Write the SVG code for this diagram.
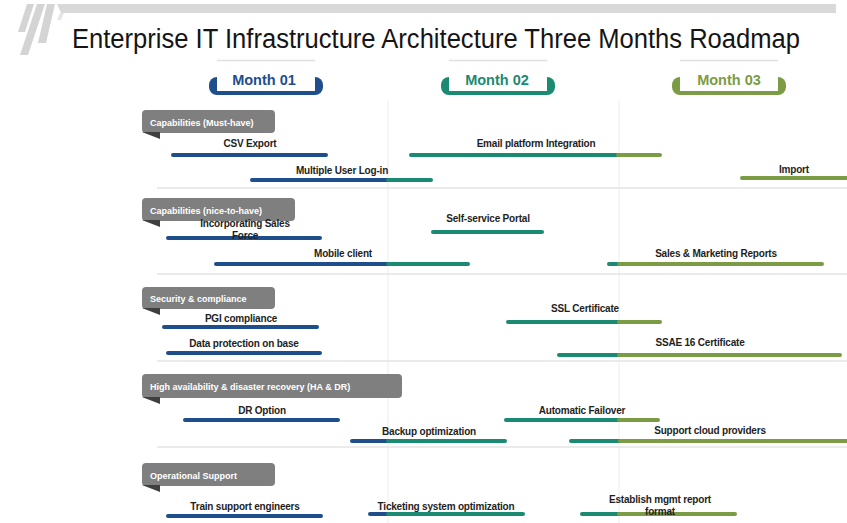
<svg xmlns="http://www.w3.org/2000/svg" width="847" height="523" viewBox="0 0 847 523">
<defs>
<style>
.title{font-family:"Liberation Sans",Arial,sans-serif;font-size:27px;fill:#151515}
.mon{font-family:"Liberation Sans",Arial,sans-serif;font-size:14.5px;font-weight:bold;text-anchor:middle}
.hdr{fill:#7F7F7F}
.fold{fill:#3F3F3F}
.htx{font-family:"Liberation Sans",Arial,sans-serif;font-size:9px;font-weight:bold;fill:#FFFFFF}
.lbl{font-family:"Liberation Sans",Arial,sans-serif;font-size:10px;font-weight:bold;fill:#1E1E1E;text-anchor:middle;letter-spacing:-0.2px}
.bar{stroke-width:4;stroke-linecap:round;fill:none}
.bl{stroke:#1F4E8C}
.te{stroke:#1A8A72}
.ol{stroke:#7C9B45}
.sep{stroke:#E4E4E4;stroke-width:1.5}
.vl{stroke:#EDEDED;stroke-width:1}
.tab{fill:#FFFFFF}
.tabtop{stroke:#E0E0E0;stroke-width:1.5}
</style>
</defs>
<rect width="847" height="523" fill="#FFFFFF"/>
<g id="decor">
<polygon points="27,4 34,4 25,32 18,32" fill="#D4D4D4"/>
<polygon points="37,4 45,4 28,55 20,55" fill="#D4D4D4"/>
<polygon points="47,4 55,4 46,43 38,43" fill="#D4D4D4"/>
<polygon points="57,4 836,4 836,13 61,13" fill="#D9D9D9"/>
<polygon points="60,13 64,13 61,20 57,20" fill="#E6E6E6"/>
</g>
<text class="title" x="72" y="48" textLength="728" lengthAdjust="spacingAndGlyphs">Enterprise IT Infrastructure Architecture Three Months Roadmap</text>
<g id="grid">
<line class="vl" x1="388" y1="100" x2="388" y2="523"/>
<line class="vl" x1="619" y1="100" x2="619" y2="523"/>
<line class="sep" x1="157" y1="188" x2="847" y2="188"/>
<line class="sep" x1="157" y1="274" x2="847" y2="274"/>
<line class="sep" x1="157" y1="361" x2="847" y2="361"/>
<line class="sep" x1="157" y1="447" x2="847" y2="447"/>
</g>
<g id="month1">
<rect x="209" y="77" width="114" height="18" rx="8" fill="#1F4E8C"/>
<rect class="tab" x="217" y="60" width="98" height="31"/>
<line class="tabtop" x1="217" y1="60.5" x2="315" y2="60.5"/>
<text class="mon" x="264" y="85" fill="#1F4E8C">Month 01</text>
</g>
<g id="month2">
<rect x="441" y="77" width="114" height="18" rx="8" fill="#1A8A72"/>
<rect class="tab" x="449" y="60" width="98" height="31"/>
<line class="tabtop" x1="449" y1="60.5" x2="547" y2="60.5"/>
<text class="mon" x="497" y="85" fill="#1A8A72">Month 02</text>
</g>
<g id="month3">
<rect x="672" y="77" width="114" height="18" rx="8" fill="#7C9B45"/>
<rect class="tab" x="680" y="60" width="98" height="31"/>
<line class="tabtop" x1="680" y1="60.5" x2="778" y2="60.5"/>
<text class="mon" x="729" y="85" fill="#7C9B45">Month 03</text>
</g>
<g id="hdr1">
<rect class="hdr" x="142" y="110" width="133" height="23" rx="4"/>
<polygon class="fold" points="142,132 160,132 160,139"/>
<text class="htx" x="150" y="125.5">Capabilities (Must-have)</text>
</g>
<g id="hdr2">
<rect class="hdr" x="142" y="198" width="153" height="23" rx="4"/>
<polygon class="fold" points="142,220 160,220 160,227"/>
<text class="htx" x="150" y="213.5">Capabilities (nice-to-have)</text>
</g>
<g id="hdr3">
<rect class="hdr" x="142" y="287" width="133" height="22" rx="4"/>
<polygon class="fold" points="142,308 160,308 160,315"/>
<text class="htx" x="150" y="301.5">Security &amp; compliance</text>
</g>
<g id="hdr4">
<rect class="hdr" x="142" y="374" width="260" height="24" rx="4"/>
<polygon class="fold" points="142,397 160,397 160,404"/>
<text class="htx" x="150" y="389.5">High availability &amp; disaster recovery (HA &amp; DR)</text>
</g>
<g id="hdr5">
<rect class="hdr" x="142" y="463" width="133" height="23" rx="4"/>
<polygon class="fold" points="142,485 160,485 160,492"/>
<text class="htx" x="150" y="478.5">Operational Support</text>
</g>
<g id="connectors">
<line class="bar bl" x1="173" y1="155" x2="326" y2="155"/>
<line class="bar bl" x1="252" y1="180" x2="388" y2="180"/><line class="bar te" x1="388" y1="180" x2="431" y2="180"/>
<line class="bar te" x1="411" y1="155" x2="618" y2="155"/><line class="bar ol" x1="618" y1="155" x2="660" y2="155"/>
<line class="bar ol" x1="742" y1="178" x2="852" y2="178"/>
<line class="bar bl" x1="168" y1="238" x2="320" y2="238"/>
<line class="bar te" x1="433" y1="232" x2="542" y2="232"/>
<line class="bar bl" x1="216" y1="264" x2="388" y2="264"/><line class="bar te" x1="388" y1="264" x2="468" y2="264"/>
<line class="bar te" x1="609" y1="264" x2="619" y2="264"/><line class="bar ol" x1="619" y1="264" x2="822" y2="264"/>
<line class="bar bl" x1="164" y1="327" x2="317" y2="327"/>
<line class="bar bl" x1="168" y1="353" x2="320" y2="353"/>
<line class="bar te" x1="508" y1="322" x2="619" y2="322"/><line class="bar ol" x1="619" y1="322" x2="660" y2="322"/>
<line class="bar te" x1="559" y1="355" x2="619" y2="355"/><line class="bar ol" x1="619" y1="355" x2="840" y2="355"/>
<line class="bar bl" x1="185" y1="420" x2="338" y2="420"/>
<line class="bar bl" x1="352" y1="441" x2="388" y2="441"/><line class="bar te" x1="388" y1="441" x2="505" y2="441"/>
<line class="bar te" x1="506" y1="420" x2="619" y2="420"/><line class="bar ol" x1="619" y1="420" x2="658" y2="420"/>
<line class="bar te" x1="571" y1="441" x2="620" y2="441"/><line class="bar ol" x1="620" y1="441" x2="852" y2="441"/>
<line class="bar bl" x1="168" y1="516" x2="321" y2="516"/>
<line class="bar bl" x1="370" y1="514" x2="388" y2="514"/><line class="bar te" x1="388" y1="514" x2="523" y2="514"/>
<line class="bar te" x1="582" y1="514" x2="619" y2="514"/><line class="bar ol" x1="619" y1="514" x2="735" y2="514"/>
</g>
<g id="t-csv"><text class="lbl" x="250" y="147">CSV Export</text></g>
<g id="t-multi"><text class="lbl" x="342" y="174">Multiple User Log-in</text></g>
<g id="t-email"><text class="lbl" x="536" y="147">Email platform Integration</text></g>
<g id="t-import"><text class="lbl" x="794" y="173">Import</text></g>
<g id="t-incorp"><text class="lbl" x="245" y="227">Incorporating Sales</text><text class="lbl" x="245" y="238.5">Force</text></g>
<g id="t-self"><text class="lbl" x="488" y="222">Self-service Portal</text></g>
<g id="t-mobile"><text class="lbl" x="343" y="257">Mobile client</text></g>
<g id="t-sales"><text class="lbl" x="716" y="257">Sales &amp; Marketing Reports</text></g>
<g id="t-pgi"><text class="lbl" x="241" y="322">PGI compliance</text></g>
<g id="t-data"><text class="lbl" x="244" y="347">Data protection on base</text></g>
<g id="t-ssl"><text class="lbl" x="585" y="312">SSL Certificate</text></g>
<g id="t-ssae"><text class="lbl" x="700" y="346">SSAE 16 Certificate</text></g>
<g id="t-dr"><text class="lbl" x="262" y="414">DR Option</text></g>
<g id="t-backup"><text class="lbl" x="429" y="435">Backup optimization</text></g>
<g id="t-auto"><text class="lbl" x="582" y="414">Automatic Failover</text></g>
<g id="t-cloud"><text class="lbl" x="710" y="434">Support cloud providers</text></g>
<g id="t-train"><text class="lbl" x="245" y="510">Train support engineers</text></g>
<g id="t-ticket"><text class="lbl" x="446" y="510">Ticketing system optimization</text></g>
<g id="t-estab"><text class="lbl" x="660" y="503">Establish mgmt report</text><text class="lbl" x="660" y="514.5">format</text></g>
</svg>
